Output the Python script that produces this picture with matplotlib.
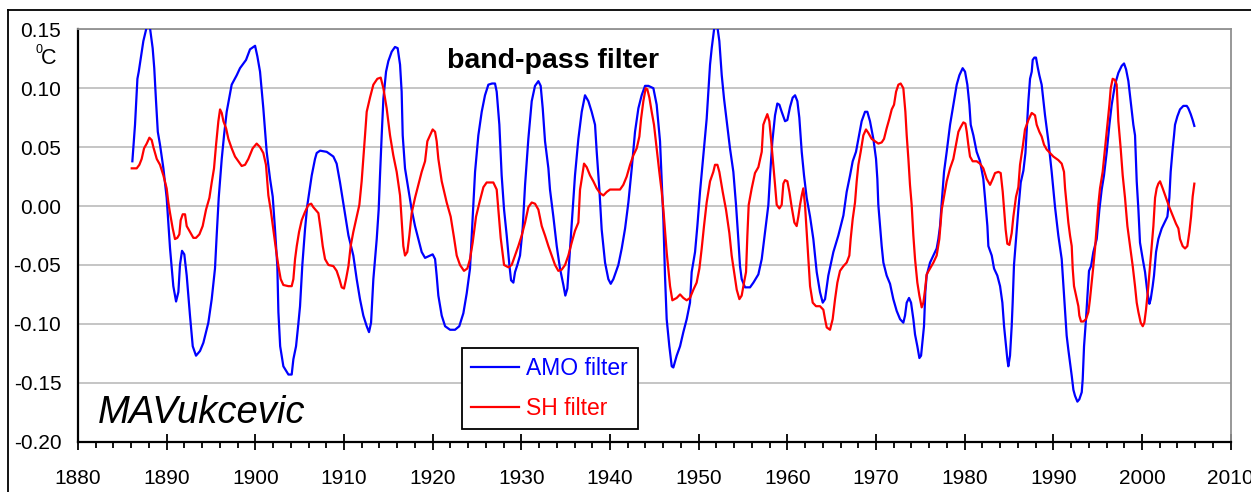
import matplotlib
matplotlib.use("Agg")
import matplotlib.pyplot as plt
from matplotlib.lines import Line2D
from matplotlib.ticker import MultipleLocator, FormatStrFormatter

plt.rcParams['font.family'] = ['Liberation Sans', 'DejaVu Sans']

# ---------------- data ----------------
amo_years = [1886.13, 1886.43, 1886.70, 1886.85, 1887.37, 1887.75, 1888.05, 1888.42, 1888.60, 1888.80,
             1889.00, 1889.25, 1889.63, 1890.00, 1890.38, 1890.75, 1891.06, 1891.32, 1891.50, 1891.73,
             1891.99, 1892.26, 1892.63, 1892.94, 1893.31, 1893.76, 1894.14, 1894.70, 1895.08, 1895.45,
             1895.64, 1895.87, 1896.21, 1896.47, 1896.77, 1897.33, 1897.90, 1898.27, 1898.95, 1899.40,
             1899.97, 1900.23, 1900.53, 1900.90, 1901.28, 1901.66, 1901.96, 1902.22, 1902.48, 1902.60,
             1902.80, 1903.16, 1903.73, 1904.10, 1904.29, 1904.59, 1904.85, 1905.04, 1905.30, 1905.60,
             1905.85, 1906.36, 1906.73, 1906.92, 1907.30, 1908.05, 1908.80, 1909.17, 1909.55, 1909.93,
             1910.50, 1911.05, 1911.43, 1911.80, 1912.18, 1912.56, 1912.82, 1913.05, 1913.31, 1913.69,
             1913.91, 1914.06, 1914.25, 1914.44, 1914.74, 1915.00, 1915.38, 1915.75, 1916.05, 1916.32,
             1916.50, 1916.62, 1916.88, 1917.26, 1917.63, 1918.01, 1918.38, 1918.76, 1919.14, 1919.70,
             1920.00, 1920.27, 1920.45, 1920.64, 1921.02, 1921.40, 1921.96, 1922.52, 1923.00, 1923.46,
             1923.84, 1924.21, 1924.51, 1924.78, 1925.15, 1925.53, 1925.90, 1926.28, 1926.70, 1927.03,
             1927.22, 1927.52, 1927.78, 1928.05, 1928.35, 1928.65, 1928.84, 1929.10, 1929.29, 1929.55,
             1929.85, 1930.15, 1930.42, 1930.79, 1931.17, 1931.54, 1931.92, 1932.18, 1932.41, 1932.67,
             1933.05, 1933.23, 1933.61, 1933.99, 1934.36, 1934.74, 1934.96, 1935.19, 1935.42, 1935.79,
             1936.05, 1936.43, 1936.81, 1937.18, 1937.56, 1937.93, 1938.31, 1938.50, 1938.80, 1939.06,
             1939.44, 1939.81, 1940.08, 1940.38, 1940.94, 1941.32, 1941.70, 1942.07, 1942.45, 1942.82,
             1943.20, 1943.57, 1943.95, 1944.33, 1944.89, 1945.26, 1945.64, 1946.02, 1946.20, 1946.39,
             1946.69, 1946.96, 1947.14, 1947.52, 1947.90, 1948.27, 1948.65, 1949.02, 1949.21, 1949.59,
             1949.85, 1950.15, 1950.53, 1950.90, 1951.09, 1951.28, 1951.47, 1951.77, 1951.95, 1952.11,
             1952.33, 1952.60, 1952.86, 1953.16, 1953.53, 1953.91, 1954.21, 1954.47, 1954.66, 1954.85,
             1955.23, 1955.79, 1956.17, 1956.73, 1957.11, 1957.48, 1957.86, 1958.05, 1958.31, 1958.61,
             1958.87, 1959.10, 1959.36, 1959.74, 1960.00, 1960.30, 1960.60, 1960.87, 1961.13, 1961.35,
             1961.62, 1961.88, 1962.18, 1962.56, 1962.93, 1963.31, 1963.68, 1963.99, 1964.25, 1964.62,
             1965.19, 1965.75, 1966.32, 1966.69, 1967.07, 1967.37, 1967.74, 1968.01, 1968.38, 1968.76,
             1969.02, 1969.32, 1969.70, 1970.00, 1970.15, 1970.26, 1970.45, 1970.64, 1970.83, 1971.20,
             1971.58, 1971.95, 1972.33, 1972.71, 1973.08, 1973.27, 1973.46, 1973.72, 1973.95, 1974.21,
             1974.40, 1974.66, 1974.89, 1975.08, 1975.26, 1975.41, 1975.56, 1975.71, 1976.09, 1976.47,
             1976.84, 1977.03, 1977.22, 1977.41, 1977.67, 1977.97, 1978.35, 1978.72, 1979.10, 1979.40,
             1979.77, 1980.04, 1980.30, 1980.53, 1980.68, 1980.98, 1981.35, 1981.73, 1982.10, 1982.29,
             1982.56, 1982.67, 1983.05, 1983.31, 1983.68, 1983.99, 1984.25, 1984.44, 1984.66, 1984.81,
             1984.92, 1985.11, 1985.30, 1985.41, 1985.56, 1985.79, 1986.05, 1986.32, 1986.62, 1986.85,
             1986.99, 1987.18, 1987.37, 1987.56, 1987.67, 1987.86, 1988.04, 1988.23, 1988.42, 1988.68,
             1989.06, 1989.44, 1989.81, 1990.19, 1990.56, 1990.94, 1991.13, 1991.32, 1991.50, 1991.69,
             1991.88, 1992.07, 1992.26, 1992.44, 1992.71, 1992.93, 1993.20, 1993.31, 1993.46, 1993.68,
             1993.87, 1994.02, 1994.25, 1994.51, 1994.89, 1995.19, 1995.45, 1995.71, 1996.02, 1996.32,
             1996.58, 1996.95, 1997.33, 1997.71, 1997.97, 1998.20, 1998.46, 1998.72, 1999.02, 1999.21,
             1999.40, 1999.59, 1999.77, 2000.08, 2000.34, 2000.60, 2000.83, 2000.98, 2001.20, 2001.35,
             2001.58, 2001.84, 2002.22, 2002.48, 2002.86, 2003.08, 2003.23, 2003.46, 2003.61, 2003.72,
             2003.98, 2004.28, 2004.66, 2005.04, 2005.22, 2005.49, 2005.71, 2005.90]
amo_values = [0.038, 0.069, 0.108, 0.114, 0.140, 0.152, 0.155, 0.134, 0.117, 0.089,
              0.063, 0.052, 0.032, 0.007, -0.036, -0.068, -0.081, -0.073, -0.050, -0.038,
              -0.041, -0.059, -0.093, -0.119, -0.127, -0.123, -0.116, -0.099, -0.079, -0.053,
              -0.025, 0.007, 0.040, 0.060, 0.080, 0.103, 0.111, 0.117, 0.124, 0.133,
              0.136, 0.127, 0.114, 0.083, 0.046, 0.023, 0.008, -0.020, -0.051, -0.090,
              -0.119, -0.136, -0.143, -0.143, -0.130, -0.119, -0.100, -0.085, -0.050, -0.020,
              0.000, 0.026, 0.040, 0.045, 0.047, 0.046, 0.042, 0.036, 0.020, 0.002,
              -0.025, -0.042, -0.062, -0.079, -0.093, -0.102, -0.107, -0.099, -0.062, -0.028,
              -0.003, 0.026, 0.060, 0.091, 0.114, 0.123, 0.131, 0.135, 0.134, 0.120,
              0.097, 0.060, 0.032, 0.014, -0.003, -0.017, -0.028, -0.039, -0.044, -0.042,
              -0.041, -0.045, -0.059, -0.076, -0.093, -0.102, -0.105, -0.105, -0.102, -0.091,
              -0.074, -0.053, -0.009, 0.029, 0.060, 0.080, 0.094, 0.103, 0.104, 0.104,
              0.097, 0.069, 0.026, -0.003, -0.025, -0.050, -0.063, -0.065, -0.056, -0.050,
              -0.042, -0.019, 0.018, 0.057, 0.089, 0.102, 0.106, 0.102, 0.083, 0.055,
              0.032, 0.014, -0.009, -0.034, -0.053, -0.067, -0.076, -0.070, -0.044, -0.003,
              0.026, 0.057, 0.080, 0.094, 0.089, 0.080, 0.069, 0.046, 0.014, -0.020,
              -0.048, -0.062, -0.066, -0.062, -0.050, -0.036, -0.019, 0.003, 0.032, 0.063,
              0.083, 0.094, 0.102, 0.102, 0.100, 0.086, 0.055, -0.012, -0.059, -0.096,
              -0.119, -0.136, -0.137, -0.127, -0.119, -0.107, -0.096, -0.082, -0.056, -0.039,
              -0.017, 0.012, 0.043, 0.074, 0.097, 0.120, 0.134, 0.152, 0.156, 0.152,
              0.140, 0.111, 0.091, 0.072, 0.049, 0.029, 0.001, -0.028, -0.051, -0.062,
              -0.069, -0.069, -0.065, -0.058, -0.045, -0.022, 0.001, 0.026, 0.055, 0.077,
              0.087, 0.086, 0.080, 0.072, 0.073, 0.084, 0.092, 0.094, 0.089, 0.075,
              0.046, 0.026, 0.007, -0.009, -0.028, -0.056, -0.073, -0.082, -0.079, -0.059,
              -0.039, -0.025, -0.008, 0.012, 0.026, 0.038, 0.046, 0.057, 0.072, 0.080,
              0.080, 0.072, 0.057, 0.040, 0.023, 0.001, -0.017, -0.034, -0.048, -0.059,
              -0.066, -0.079, -0.089, -0.096, -0.099, -0.093, -0.082, -0.078, -0.082, -0.096,
              -0.109, -0.119, -0.129, -0.127, -0.113, -0.102, -0.073, -0.059, -0.048, -0.042,
              -0.036, -0.028, -0.017, 0.003, 0.029, 0.046, 0.069, 0.086, 0.103, 0.111,
              0.117, 0.114, 0.103, 0.086, 0.069, 0.060, 0.046, 0.038, 0.023, 0.007,
              -0.017, -0.034, -0.042, -0.053, -0.059, -0.068, -0.082, -0.102, -0.119, -0.130,
              -0.136, -0.127, -0.102, -0.082, -0.050, -0.028, -0.003, 0.020, 0.030, 0.045,
              0.063, 0.089, 0.108, 0.114, 0.124, 0.126, 0.126, 0.118, 0.111, 0.103,
              0.077, 0.055, 0.029, -0.001, -0.025, -0.045, -0.067, -0.090, -0.110, -0.122,
              -0.133, -0.144, -0.156, -0.161, -0.166, -0.164, -0.158, -0.147, -0.119, -0.096,
              -0.073, -0.055, -0.051, -0.039, -0.028, -0.003, 0.014, 0.026, 0.046, 0.069,
              0.086, 0.103, 0.113, 0.119, 0.121, 0.116, 0.106, 0.089, 0.069, 0.060,
              0.021, -0.003, -0.031, -0.045, -0.056, -0.073, -0.083, -0.079, -0.068, -0.059,
              -0.039, -0.028, -0.019, -0.015, -0.009, 0.007, 0.029, 0.049, 0.060, 0.069,
              0.076, 0.082, 0.085, 0.085, 0.083, 0.078, 0.073, 0.068]

sh_years = [1886.06, 1886.62, 1886.92, 1887.18, 1887.45, 1887.75, 1888.05, 1888.31, 1888.50, 1888.88,
            1889.25, 1889.63, 1890.00, 1890.19, 1890.38, 1890.68, 1890.94, 1891.20, 1891.43, 1891.58,
            1891.81, 1892.07, 1892.26, 1892.63, 1893.01, 1893.31, 1893.69, 1894.06, 1894.44, 1894.82,
            1895.08, 1895.34, 1895.57, 1895.83, 1896.02, 1896.21, 1896.40, 1896.70, 1896.96, 1897.33,
            1897.71, 1898.09, 1898.46, 1898.84, 1899.21, 1899.70, 1900.15, 1900.53, 1900.90, 1901.20,
            1901.47, 1901.73, 1902.03, 1902.33, 1902.60, 1902.86, 1903.16, 1903.73, 1904.10, 1904.29,
            1904.48, 1904.67, 1904.93, 1905.23, 1905.60, 1905.98, 1906.30, 1906.54, 1907.11, 1907.37,
            1907.60, 1907.86, 1908.24, 1908.80, 1909.17, 1909.48, 1909.74, 1910.00, 1910.23, 1910.50,
            1910.75, 1911.05, 1911.43, 1911.73, 1911.99, 1912.18, 1912.37, 1912.56, 1912.93, 1913.31,
            1913.76, 1914.14, 1914.44, 1914.81, 1915.19, 1915.56, 1915.94, 1916.32, 1916.50, 1916.69,
            1916.88, 1917.14, 1917.37, 1917.63, 1918.01, 1918.38, 1918.76, 1919.14, 1919.40, 1919.70,
            1920.00, 1920.27, 1920.45, 1920.64, 1921.02, 1921.58, 1922.03, 1922.41, 1922.71, 1923.08,
            1923.53, 1923.91, 1924.21, 1924.51, 1924.89, 1925.34, 1925.72, 1926.09, 1926.84, 1927.22,
            1927.41, 1927.67, 1928.05, 1928.54, 1928.91, 1929.29, 1929.66, 1930.04, 1930.42, 1930.79,
            1931.17, 1931.54, 1931.92, 1932.30, 1932.67, 1933.05, 1933.42, 1933.80, 1934.17, 1934.55,
            1934.93, 1935.30, 1935.68, 1936.05, 1936.43, 1936.62, 1936.81, 1937.07, 1937.37, 1937.75,
            1938.12, 1938.50, 1938.87, 1939.25, 1939.63, 1940.00, 1940.75, 1941.13, 1941.50, 1941.88,
            1942.26, 1942.63, 1943.01, 1943.31, 1943.50, 1943.76, 1944.02, 1944.21, 1944.44, 1944.70,
            1944.96, 1945.26, 1945.56, 1945.83, 1946.02, 1946.20, 1946.40, 1946.60, 1946.77, 1947.03,
            1947.52, 1947.90, 1948.27, 1948.65, 1949.02, 1949.40, 1949.77, 1950.08, 1950.34, 1950.60,
            1950.90, 1951.28, 1951.65, 1951.84, 1952.11, 1952.33, 1952.71, 1953.08, 1953.46, 1953.72,
            1953.99, 1954.29, 1954.59, 1954.85, 1955.11, 1955.34, 1955.49, 1955.64, 1955.98, 1956.35,
            1956.73, 1957.11, 1957.29, 1957.48, 1957.74, 1957.97, 1958.16, 1958.42, 1958.61, 1958.80,
            1959.10, 1959.36, 1959.55, 1959.74, 1960.00, 1960.23, 1960.49, 1960.79, 1961.05, 1961.24,
            1961.43, 1961.62, 1961.80, 1961.99, 1962.18, 1962.37, 1962.56, 1962.86, 1963.23, 1963.68,
            1964.06, 1964.25, 1964.44, 1964.81, 1965.11, 1965.38, 1965.64, 1965.94, 1966.32, 1966.69,
            1966.99, 1967.14, 1967.37, 1967.63, 1967.82, 1968.01, 1968.27, 1968.57, 1968.87, 1969.14,
            1969.51, 1969.89, 1970.26, 1970.64, 1970.90, 1971.20, 1971.50, 1971.77, 1972.03, 1972.26,
            1972.52, 1972.78, 1973.08, 1973.31, 1973.46, 1973.65, 1973.83, 1974.02, 1974.21, 1974.40,
            1974.66, 1974.89, 1975.15, 1975.34, 1975.53, 1975.71, 1976.09, 1976.47, 1976.84, 1977.14,
            1977.41, 1977.67, 1977.97, 1978.35, 1978.72, 1979.02, 1979.29, 1979.55, 1979.85, 1980.08,
            1980.23, 1980.41, 1980.60, 1980.90, 1981.35, 1981.73, 1982.10, 1982.48, 1982.86, 1983.16,
            1983.42, 1983.80, 1984.06, 1984.29, 1984.44, 1984.62, 1984.81, 1985.04, 1985.30, 1985.49,
            1985.79, 1986.05, 1986.24, 1986.54, 1986.80, 1987.18, 1987.56, 1987.93, 1988.12, 1988.42,
            1988.68, 1988.95, 1989.25, 1989.62, 1990.00, 1990.56, 1990.94, 1991.20, 1991.32, 1991.50,
            1991.69, 1991.88, 1992.07, 1992.18, 1992.33, 1992.56, 1992.82, 1992.93, 1993.12, 1993.38,
            1993.68, 1993.95, 1994.13, 1994.32, 1994.51, 1994.70, 1994.89, 1995.07, 1995.26, 1995.56,
            1995.83, 1996.09, 1996.32, 1996.47, 1996.69, 1996.95, 1997.14, 1997.33, 1997.59, 1997.82,
            1998.08, 1998.35, 1998.65, 1998.95, 1999.21, 1999.40, 1999.59, 1999.85, 2000.08, 2000.26,
            2000.45, 2000.71, 2000.90, 2001.09, 2001.28, 2001.47, 2001.65, 2001.84, 2002.03, 2002.33,
            2002.71, 2003.08, 2003.46, 2003.83, 2004.10, 2004.28, 2004.58, 2004.85, 2005.11, 2005.34,
            2005.53, 2005.71, 2005.90]
sh_values = [0.032, 0.032, 0.035, 0.040, 0.049, 0.053, 0.058, 0.056, 0.050, 0.040,
             0.035, 0.026, 0.015, 0.003, -0.006, -0.019, -0.028, -0.027, -0.024, -0.012,
             -0.007, -0.007, -0.017, -0.022, -0.027, -0.027, -0.024, -0.017, -0.003, 0.007,
             0.020, 0.032, 0.052, 0.072, 0.082, 0.079, 0.072, 0.066, 0.057, 0.049,
             0.042, 0.038, 0.034, 0.035, 0.040, 0.049, 0.053, 0.050, 0.045, 0.035,
             0.009, -0.003, -0.020, -0.037, -0.051, -0.062, -0.067, -0.068, -0.068, -0.062,
             -0.045, -0.034, -0.022, -0.012, -0.005, 0.001, 0.002, -0.001, -0.006, -0.020,
             -0.034, -0.045, -0.050, -0.051, -0.055, -0.062, -0.069, -0.070, -0.062, -0.051,
             -0.034, -0.022, -0.009, 0.001, 0.021, 0.040, 0.060, 0.080, 0.092, 0.103,
             0.108, 0.109, 0.100, 0.083, 0.060, 0.043, 0.029, 0.009, -0.012, -0.034,
             -0.042, -0.039, -0.025, -0.006, 0.007, 0.018, 0.029, 0.038, 0.055, 0.060,
             0.065, 0.063, 0.055, 0.040, 0.021, 0.003, -0.009, -0.027, -0.042, -0.050,
             -0.055, -0.053, -0.045, -0.031, -0.009, 0.005, 0.016, 0.020, 0.020, 0.014,
             -0.003, -0.027, -0.050, -0.052, -0.050, -0.042, -0.034, -0.025, -0.014, -0.001,
             0.003, 0.002, -0.003, -0.017, -0.025, -0.034, -0.042, -0.050, -0.055, -0.054,
             -0.050, -0.042, -0.031, -0.021, -0.014, 0.014, 0.023, 0.036, 0.033, 0.026,
             0.021, 0.015, 0.011, 0.009, 0.012, 0.014, 0.014, 0.014, 0.018, 0.025,
             0.035, 0.043, 0.049, 0.059, 0.074, 0.089, 0.100, 0.099, 0.092, 0.080,
             0.069, 0.049, 0.029, 0.012, -0.003, -0.020, -0.040, -0.055, -0.068, -0.080,
             -0.078, -0.075, -0.078, -0.080, -0.078, -0.071, -0.065, -0.053, -0.036, -0.017,
             0.003, 0.021, 0.029, 0.035, 0.035, 0.029, 0.012, -0.003, -0.023, -0.042,
             -0.056, -0.071, -0.079, -0.076, -0.065, -0.056, -0.025, 0.001, 0.015, 0.028,
             0.033, 0.046, 0.069, 0.073, 0.078, 0.072, 0.057, 0.035, 0.018, 0.001,
             -0.002, 0.001, 0.019, 0.022, 0.021, 0.012, -0.001, -0.014, -0.017, -0.009,
             0.001, 0.009, 0.015, 0.001, -0.022, -0.045, -0.068, -0.082, -0.085, -0.085,
             -0.088, -0.096, -0.103, -0.105, -0.096, -0.079, -0.065, -0.055, -0.051, -0.048,
             -0.042, -0.028, -0.011, 0.003, 0.021, 0.035, 0.046, 0.060, 0.065, 0.062,
             0.057, 0.055, 0.053, 0.054, 0.057, 0.066, 0.074, 0.082, 0.086, 0.097,
             0.103, 0.104, 0.100, 0.080, 0.060, 0.040, 0.018, 0.001, -0.025, -0.045,
             -0.065, -0.076, -0.086, -0.082, -0.071, -0.058, -0.053, -0.048, -0.042, -0.028,
             -0.003, 0.008, 0.021, 0.032, 0.040, 0.052, 0.063, 0.067, 0.071, 0.070,
             0.063, 0.052, 0.042, 0.038, 0.038, 0.036, 0.032, 0.023, 0.018, 0.023,
             0.028, 0.029, 0.028, 0.012, -0.003, -0.020, -0.032, -0.033, -0.023, -0.009,
             0.008, 0.016, 0.035, 0.050, 0.065, 0.073, 0.079, 0.077, 0.069, 0.063,
             0.059, 0.052, 0.048, 0.045, 0.042, 0.039, 0.036, 0.029, 0.015, 0.001,
             -0.014, -0.025, -0.034, -0.053, -0.068, -0.076, -0.085, -0.093, -0.098, -0.098,
             -0.096, -0.090, -0.079, -0.065, -0.051, -0.036, -0.017, 0.001, 0.015, 0.029,
             0.049, 0.069, 0.086, 0.100, 0.108, 0.107, 0.103, 0.072, 0.049, 0.026,
             0.007, -0.017, -0.034, -0.051, -0.068, -0.082, -0.090, -0.099, -0.102, -0.099,
             -0.088, -0.068, -0.051, -0.034, -0.017, 0.007, 0.015, 0.019, 0.021, 0.015,
             0.007, -0.001, -0.008, -0.015, -0.019, -0.028, -0.034, -0.036, -0.034, -0.022,
             -0.009, 0.008, 0.019]

x_ticks = [1880, 1890, 1900, 1910, 1920, 1930, 1940, 1950, 1960, 1970, 1980, 1990, 2000, 2010]
y_ticks = [-0.20, -0.15, -0.10, -0.05, 0.00, 0.05, 0.10, 0.15]
series_labels = ["AMO filter", "SH filter"]
title_text = "band-pass filter"
author_text = "MAVukcevic"

# ---------------- figure ----------------
W, H = 1251, 492
fig = plt.figure(figsize=(W / 100, H / 100), dpi=100)
fig.patch.set_facecolor("white")

ax_l, ax_r, ax_t, ax_b = 78, 1230.7, 29.3, 441.7
ax = fig.add_axes([ax_l / W, 1 - ax_b / H, (ax_r - ax_l) / W, (ax_b - ax_t) / H])

ax.plot(amo_years, amo_values, color="#0000FF", lw=1.6, label=series_labels[0], zorder=3)
ax.plot(sh_years, sh_values, color="#FF0000", lw=1.6, label=series_labels[1], zorder=3)

ax.set_xlim(x_ticks[0], x_ticks[-1])
ax.set_ylim(y_ticks[0], y_ticks[-1])
ax.set_xticks(x_ticks)
ax.set_yticks(y_ticks)
ax.yaxis.set_major_formatter(FormatStrFormatter('%.2f'))
ax.xaxis.set_minor_locator(MultipleLocator(2))

ax.grid(axis='y', color="#C0C0C0", lw=1.3, zorder=0)
ax.set_axisbelow(True)

for side in ["top", "right"]:
    ax.spines[side].set_color("#909090")
    ax.spines[side].set_linewidth(1.3)
for side in ["left", "bottom"]:
    ax.spines[side].set_color("black")
    ax.spines[side].set_linewidth(1.6)

ax.tick_params(axis='x', which='major', direction='inout', length=11, width=1.3,
               labelsize=15, pad=14)
ax.tick_params(axis='x', which='minor', direction='out', length=4.5, width=1.3)
ax.tick_params(axis='y', which='major', length=0, labelsize=15, pad=12)

# title and annotations
ax.text(0.4125, 0.906, title_text, transform=ax.transAxes, ha='center', va='baseline',
        fontsize=20.5, fontweight='bold')
fig.text(98 / W, 1 - 423 / H, author_text, ha='left', va='baseline', fontsize=27.5,
         style='italic', family=['Liberation Sans Narrow', 'Liberation Sans'])

# unit label (degree C)
fig.text(35 / W, 1 - 53 / H, "0", ha='left', va='baseline', fontsize=9)
fig.text(40.5 / W, 1 - 64 / H, "C", ha='left', va='baseline', fontsize=15.5)

leg = ax.legend(loc='upper left', bbox_to_anchor=((461.7 - ax_l) / (ax_r - ax_l),
                                                   (ax_b - 347.7) / (ax_b - ax_t)),
                fontsize=16.5, frameon=True, fancybox=False, framealpha=1,
                edgecolor='black', handlelength=2.1, handletextpad=0.3,
                labelspacing=0.72, borderpad=0.42, borderaxespad=0)
leg.get_frame().set_linewidth(1.3)
for txt, line in zip(leg.get_texts(), leg.get_lines()):
    txt.set_color(line.get_color())

# outer chart frame (partially visible)
fig.add_artist(Line2D([7.7 / W, 1.0], [1 - 9.5 / H, 1 - 9.5 / H], color='black', lw=1.3,
                      transform=fig.transFigure))
fig.add_artist(Line2D([7.7 / W, 7.7 / W], [0.0, 1 - 9.5 / H], color='black', lw=1.3,
                      transform=fig.transFigure))

fig.savefig("out.png", dpi=100)
